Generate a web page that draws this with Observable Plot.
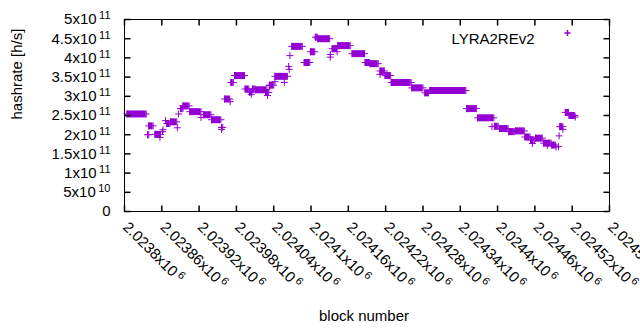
<!DOCTYPE html>
<html><head><meta charset="utf-8">
<script src="https://cdn.jsdelivr.net/npm/d3@7"></script>
<script src="https://cdn.jsdelivr.net/npm/@observablehq/plot@0.6"></script>
<style>html,body{margin:0;padding:0;background:#fff;}</style>
</head><body><div id="chart"></div>
<script>
// Runs of blocks sharing the same hashrate (start block, end block, hashrate in h/s)
const segStart = [2023804,2023837,2023839,2023849,2023857,2023861,2023862,2023866,2023868,2023874,2023885,2023887,2023890,2023891,2023894,2023905,2023923,2023927,2023940,2023956,2023956,2023961,2023970,2023971,2023977,2023994,2024001,2024004,2024006,2024011,2024027,2024030,2024033,2024033,2024042,2024042,2024057,2024064,2024065,2024066,2024069,2024089,2024099,2024107,2024111,2024131,2024131,2024134,2024142,2024143,2024166,2024187,2024195,2024211,2024211,2024219,2024229,2024262,2024283,2024291,2024350,2024368,2024391,2024395,2024403,2024418,2024429,2024444,2024453,2024456,2024461,2024474,2024480,2024487,2024494,2024498,2024499,2024500,2024505,2024509,2024515,2024525];
const segEnd   = [2023835,2023839,2023846,2023858,2023857,2023861,2023862,2023866,2023873,2023884,2023885,2023887,2023890,2023894,2023904,2023923,2023923,2023939,2023955,2023958,2023956,2023969,2023970,2023975,2023993,2024000,2024005,2024004,2024010,2024029,2024032,2024030,2024033,2024040,2024042,2024062,2024057,2024064,2024065,2024066,2024086,2024098,2024106,2024110,2024130,2024131,2024131,2024141,2024142,2024163,2024186,2024194,2024208,2024211,2024218,2024228,2024261,2024280,2024289,2024349,2024366,2024394,2024391,2024401,2024417,2024427,2024443,2024452,2024459,2024456,2024472,2024486,2024480,2024493,2024494,2024498,2024499,2024505,2024505,2024514,2024524,2024525];
const segValue = [2.54e11,2.00e11,2.23e11,2.01e11,1.93e11,2.08e11,2.13e11,2.37e11,2.29e11,2.335e11,2.18e11,2.54e11,2.68e11,2.68e11,2.75e11,2.60e11,2.45e11,2.52e11,2.39e11,2.19e11,2.14e11,2.93e11,2.86e11,3.36e11,3.54e11,3.19e11,3.11e11,3.05e11,3.19e11,3.17e11,3.10e11,3.02e11,3.28e11,3.29e11,3.38e11,3.52e11,3.36e11,3.78e11,3.70e11,4.06e11,4.30e11,3.88e11,4.16e11,4.54e11,4.50e11,4.09e11,4.02e11,4.24e11,4.16e11,4.32e11,4.11e11,3.88e11,3.85e11,3.57e11,3.66e11,3.54e11,3.36e11,3.22e11,3.09e11,3.15e11,2.68e11,2.44e11,2.21e11,2.22e11,2.16e11,2.08e11,2.10e11,1.94e11,1.865e11,1.77e11,1.91e11,1.78e11,1.72e11,1.73e11,1.68e11,1.69e11,1.97e11,2.21e11,2.14e11,2.58e11,2.50e11,2.46e11];
const seriesName = "LYRA2REv2";
const xTicks = [2023800,2023860,2023920,2023980,2024040,2024100,2024160,2024220,2024280,2024340,2024400,2024460,2024520,2024580];
const yTicks = [0,0.5e11,1e11,1.5e11,2e11,2.5e11,3e11,3.5e11,4e11,4.5e11,5e11];
const xLabel = "block number";
const yLabel = "hashrate [h/s]";

const color = "#9400D3";
const segments = segStart.map((s, i) => ({x1: s, x2: segEnd[i], y: segValue[i]}));
const runs = segments.filter(d => d.x2 > d.x1);
const points = segments.flatMap(d => d.x1 === d.x2 ? [{x: d.x1, y: d.y}] : [{x: d.x1, y: d.y}, {x: d.x2, y: d.y}]);

const plusSym = {draw(ctx) { const r = 3.5; ctx.moveTo(-r, 0); ctx.lineTo(r, 0); ctx.moveTo(0, -r); ctx.lineTo(0, r); }};
const legendSym = {draw(ctx) { const r = 3; ctx.moveTo(-r, 0); ctx.lineTo(r, 0); ctx.moveTo(0, -r); ctx.lineTo(0, r); }};
const tickSym = (dx, dy) => ({draw(ctx) { ctx.moveTo(0, 0); ctx.lineTo(dx, dy); }});

function sci(v) {
  if (v === 0) return "0";
  const e = Math.floor(Math.log10(v) + 1e-9);
  const m = +(v / Math.pow(10, e)).toPrecision(6);
  return m + "x10^" + e;
}

const chart = Plot.plot({
  width: 640, height: 330,
  marginLeft: 124, marginRight: 31, marginTop: 19, marginBottom: 119,
  style: {fontFamily: "'Liberation Sans', Arial, sans-serif", fontSize: "15px", color: "black", background: "white"},
  x: {domain: [2023800, 2024580]},
  y: {domain: [0, 5e11]},
  marks: [
    Plot.ruleY(runs, {x1: "x1", x2: "x2", y: "y", stroke: color, strokeWidth: 7}),
    Plot.dot(points, {x: "x", y: "y", symbol: plusSym, stroke: color, fill: "none", strokeWidth: 1}),
    Plot.frame({stroke: "black"}),
    Plot.dot(yTicks, {y: d => d, frameAnchor: "left", symbol: tickSym(6, 0), stroke: "black", fill: "none"}),
    Plot.dot(yTicks, {y: d => d, frameAnchor: "right", symbol: tickSym(-6, 0), stroke: "black", fill: "none"}),
    Plot.dot(xTicks, {x: d => d, frameAnchor: "bottom", symbol: tickSym(0, -6), stroke: "black", fill: "none"}),
    Plot.dot(xTicks, {x: d => d, frameAnchor: "top", symbol: tickSym(0, 6), stroke: "black", fill: "none"}),
    Plot.axisY(yTicks, {tickSize: 0, tickPadding: 14, tickFormat: sci, label: null}),
    Plot.axisX(xTicks, {tickSize: 0, tickPadding: 13, tickRotate: 45, textAnchor: "start", lineAnchor: "middle", dx: 1, tickFormat: sci, label: null}),
    Plot.text([yLabel], {frameAnchor: "left", text: d => d, rotate: -90, dx: -107, dy: 4}),
    Plot.text([xLabel], {frameAnchor: "bottom", text: d => d, dx: -3, dy: 109}),
    Plot.text([seriesName], {frameAnchor: "top-right", text: d => d, textAnchor: "end", dx: -75, dy: 13.5}),
    Plot.dot([seriesName], {frameAnchor: "top-right", symbol: legendSym, stroke: color, fill: "none", dx: -42, dy: 13.5})
  ]
});

// gnuplot-style superscript exponents
const NS = "http://www.w3.org/2000/svg";
chart.querySelectorAll("text").forEach(t => {
  const s = t.textContent;
  if (s.includes("^") && t.children.length === 0) {
    const [m, e] = s.split("^");
    t.textContent = m;
    const ts = document.createElementNS(NS, "tspan");
    ts.setAttribute("dx", "2.5");
    ts.setAttribute("dy", "-5");
    ts.setAttribute("font-size", "11");
    ts.textContent = e;
    t.appendChild(ts);
  }
});
document.getElementById("chart").appendChild(chart);
</script>
</body></html>
